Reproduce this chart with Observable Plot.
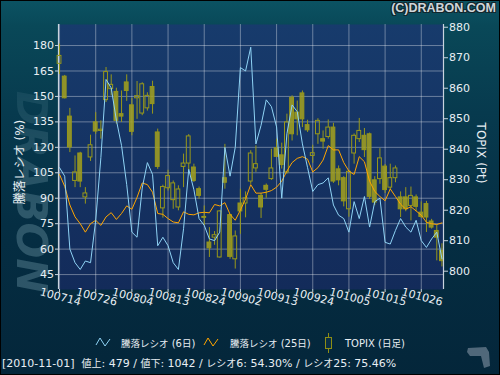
<!DOCTYPE html>
<html lang="ja"><head><meta charset="utf-8">
<script src="https://cdn.jsdelivr.net/npm/d3@7"></script>
<script src="https://cdn.jsdelivr.net/npm/@observablehq/plot@0.6"></script>
<style>
html,body{margin:0;padding:0;background:#04263a;}
#wrap{position:relative;width:500px;height:375px;overflow:hidden;
 background:linear-gradient(180deg,#0b5363 0%,#094858 7%,#073a4e 30%,#052e43 60%,#04263a 100%);
 font-family:"DejaVu Sans","Noto Sans CJK JP",sans-serif;color:#e8eef3;}
#wrap::after{content:"";position:absolute;left:0;top:0;right:0;bottom:0;box-shadow:inset 0 0 0 1px #000;pointer-events:none;}
.layer{position:absolute;left:0;top:0;}
#title{position:absolute;right:4px;top:0px;font:bold 12.5px "Liberation Sans",Arial,sans-serif;color:#cfd6da;
 text-shadow:1px 1px 0 #14262c,-1px -1px 0 #14262c,1px -1px 0 #14262c,-1px 1px 0 #14262c;line-height:16px;}
#wm{position:absolute;left:31px;top:192px;transform:translate(-50%,-50%) rotate(90deg);font:italic bold 42px "DejaVu Sans",sans-serif;
 color:rgba(120,160,176,0.36);white-space:nowrap;line-height:42px;
 -webkit-mask-image:linear-gradient(to right,rgba(0,0,0,0.35),rgba(0,0,0,1) 60%);mask-image:linear-gradient(to right,rgba(0,0,0,0.35),rgba(0,0,0,1) 60%);}
.ytitle{position:absolute;font-size:12px;line-height:14px;white-space:pre;color:#e8eef3;z-index:5;}
#ytl{left:20px;top:162px;transform:translate(-50%,-50%) rotate(-90deg);}
#ytr{left:481px;top:153px;transform:translate(-50%,-50%) rotate(90deg);}
.leg{position:absolute;top:337px;font-size:10px;line-height:14px;white-space:pre;color:#e8eef3;}
.leg .c{font-size:9.5px;}
#status{position:absolute;left:2px;top:356px;font-size:11px;line-height:16px;white-space:pre;color:#e8eef3;}
#status .c{font-size:10px;}
svg.ico{position:absolute;}
</style></head>
<body>
<div id="wrap">
  <div id="wm">DRABON</div>
  <div id="title">(C)DRABON.COM</div>
  <div class="ytitle" id="ytl">騰落レシオ (%)</div>
  <div class="ytitle" id="ytr">TOPIX (Pt)</div>
  <svg class="ico" style="left:95px;top:336px" width="18" height="12"><polyline points="1,9 5,2 10,10 15,3" fill="none" stroke="#8fd3f5" stroke-width="1"/></svg>
  <div class="leg" style="left:121px"><span class="c">騰落レシオ</span> (6<span class="c">日</span>)</div>
  <svg class="ico" style="left:203px;top:336px" width="18" height="12"><polyline points="1,9 5,2 10,10 15,3" fill="none" stroke="#ffa500" stroke-width="1"/></svg>
  <div class="leg" style="left:230px"><span class="c">騰落レシオ</span> (25<span class="c">日</span>)</div>
  <svg class="ico" style="left:322px;top:332px" width="12" height="22"><line x1="6.5" y1="1" x2="6.5" y2="21" stroke="#8e8e14"/><rect x="3.5" y="5.5" width="6" height="11" fill="#0a2f45" stroke="#8e8e14"/></svg>
  <div class="leg" style="left:345px">TOPIX (<span class="c">日足</span>)</div>
  <div id="status">[2010-11-01]  <span class="c">値上</span>: 479 / <span class="c">値下</span>: 1042 / <span class="c">レシオ</span>6: 54.30% / <span class="c">レシオ</span>25: 75.46%</div>
  <svg class="ico" style="left:465px;top:345px" width="30" height="28"><polygon points="3,3 21,2 24,7 25,21 19,23 16,11 5,11 2,7" fill="#50687a"/></svg>
</div>
<script>
const dates = ["100714","100715","100716","100720","100721","100722","100723","100726","100727","100728","100729","100730",
"100802","100803","100804","100805","100806","100809","100810","100811","100812","100813","100816","100817","100818","100819","100820","100823","100824","100825","100826","100827","100830","100831",
"100901","100902","100903","100906","100907","100908","100909","100910","100913","100914","100915","100916","100917","100921","100922","100924","100927","100928","100929","100930",
"101001","101004","101005","101006","101007","101008","101012","101013","101014","101015","101018","101019","101020","101021","101022","101025","101026","101027","101028","101029",
"101101"];
const ratio6 = [108,103,60,52,48,53,52,77,114,160,155,136,121,98,70,67,96,111,104,62,67,62,52,48,72,107,95,78,74,66,65,70,120,103,120,167,165,179,122,133,148,144,132,90,128,145,141,122,108,94,98,99,102,86,80,78,70,88,78,91,73,88,90,64,63,71,78,73,70,77,65,61,66,70,54.3];
const ratio25 = [104,97,86,79,75,70,75,77,74,79,81.5,77.5,81,85.5,83.5,90.5,99,98,93.5,81,80.5,78,76,75.5,82,80.5,80.2,81.4,81.7,81.4,86.3,85.5,87.4,80.5,77,83,89.5,98,93,93,93.5,94.5,96.5,100,106,111,113.5,114.5,113,105.5,108,112.5,121,118.5,118.5,111,106,104,114.5,111.5,100,94,91,88.5,95.5,91,86.5,83.5,85,82.5,80,75.8,75,74.5,75.46];
const open = [868.0,863.8,850.7,829.6,838.6,824.2,837.3,848.8,846.0,856.1,859.7,858.8,851.5,861.9,854.4,856.7,851.7,853.4,860.4,845.5,820.6,827.2,823.3,820.9,834.2,835.3,834.0,826.9,817.8,809.4,811.0,804.5,830.5,818.4,803.9,822.2,822.2,829.4,833.7,824.7,828.0,830.2,840.3,838.0,832.4,856.9,852.0,858.3,847.9,837.8,844.9,843.3,844.0,847.1,833.4,830.5,820.3,838.6,843.3,844.4,844.9,829.8,830.2,834.3,827.4,830.5,824.2,824.2,821.4,824.2,819.2,822.0,816.3,813.2,806.6];
const high = [874.5,864.2,853.4,837.8,839.0,827.4,844.6,852.0,849.3,866.8,864.4,860.0,859.1,864.4,856.7,862.2,861.8,858.5,862.3,846.6,828.2,833.1,829.6,828.0,838.4,844.8,835.1,827.6,821.4,814.3,813.0,819.8,841.6,818.6,813.2,826.9,826.0,839.5,841.1,825.5,828.6,840.0,843.3,842.0,851.5,857.5,855.8,859.1,849.5,841.3,850.0,846.0,849.6,848.5,834.5,831.0,833.0,845.0,850.1,846.8,845.3,831.0,840.2,835.0,835.1,834.5,826.0,827.4,827.6,825.0,822.7,822.9,817.0,815.0,809.0];
const low = [864.5,856.5,838.9,827.4,827.4,822.0,836.0,844.9,843.3,855.3,857.5,848.2,848.8,855.7,844.4,849.8,851.0,852.5,851.5,833.4,817.4,826.3,820.3,819.8,827.4,833.0,829.1,823.6,815.0,804.5,808.5,804.3,826.9,803.9,800.7,812.1,817.5,828.5,832.4,817.3,823.9,829.8,837.4,833.5,831.8,842.7,844.4,847.1,845.5,835.4,841.6,840.0,843.3,828.8,828.0,821.1,817.7,835.1,842.2,837.3,823.5,821.5,828.5,825.5,826.5,829.0,817.6,819.5,816.5,819.5,817.3,812.7,813.8,803.4,801.4];
const close = [870.6,856.7,840.6,832.4,829.4,825.5,841.3,845.8,846.4,865.3,861.1,849.3,850.7,859.1,845.7,857.4,861.3,857.5,854.8,834.2,827.6,831.2,828.8,826.8,835.3,844.2,829.6,824.7,817.5,807.5,811.8,819.6,829.0,804.7,811.4,819.6,823.9,838.6,835.1,820.9,826.7,833.7,837.5,834.8,848.8,844.9,849.8,849.8,846.2,838.7,849.3,842.5,847.1,829.4,829.8,822.9,832.6,844.4,846.0,839.7,824.4,822.5,837.0,826.6,830.5,833.7,820.3,820.3,824.7,821.1,817.8,817.6,814.3,811.0,803.3];
const leftTicks = [45,60,75,90,105,120,135,150,165,180];
const rightTicks = [800,810,820,830,840,850,860,870,880];
const xTickIdx = [0,7,14,21,28,35,42,49,56,63,70];

const rows = dates.map((date, i) => ({i, date, r6: ratio6[i], r25: ratio25[i], o: open[i], h: high[i], l: low[i], c: close[i]}));
const W = 500, H = 375;
const M = {marginLeft: 58, marginRight: 57, marginTop: 24, marginBottom: 86};
const xDomain = [-0.2, 74.3];
const yLeft = [36.2, 192.4], yRight = [794.0, 880.9];
const axisColor = "#c9d3de", labelColor = "#e8eef3";
const cStroke = "#98981a", cFill = "#a4a222";
const style = {background: "transparent", overflow: "visible", fontFamily: "'DejaVu Sans','Noto Sans CJK JP',sans-serif"};
const wrap = document.getElementById("wrap");

const base = Plot.plot({
  width: W, height: H, ...M, style,
  x: {domain: xDomain, axis: null},
  y: {domain: yLeft, axis: null},
  marks: [
    Plot.frame({fill: "url(#plotbg)", stroke: "none"}),
    Plot.gridY(leftTicks, {stroke: "#ffffff", strokeOpacity: 0.36}),
    Plot.gridX(xTickIdx, {stroke: "#ffffff", strokeOpacity: 0.36}),
    Plot.axisY(leftTicks, {anchor: "left", tickSize: 3, tickPadding: 1.5, fontSize: 11, fill: labelColor, stroke: axisColor, label: null}),
    Plot.axisX(xTickIdx, {anchor: "bottom", tickSize: 3, tickFormat: () => "", stroke: axisColor, label: null}),
    Plot.text(xTickIdx, {x: d => d, text: d => dates[d], frameAnchor: "bottom", dy: 11, rotate: 15, fontSize: 11, fill: labelColor}),
    Plot.ruleX([xDomain[0]], {stroke: axisColor, strokeWidth: 1.2})
  ]
});
base.classList.add("layer");
const defs = d3.select(base).insert("defs", ":first-child");
const grad = defs.append("linearGradient").attr("id", "plotbg").attr("x1", 0).attr("y1", 0).attr("x2", 0).attr("y2", 1);
grad.append("stop").attr("offset", "0%").attr("stop-color", "#173b6c");
grad.append("stop").attr("offset", "100%").attr("stop-color", "#132b5a");
wrap.appendChild(base);

const candles = Plot.plot({
  width: W, height: H, ...M, style,
  x: {domain: xDomain, axis: null},
  y: {domain: yRight, axis: null},
  marks: [
    Plot.ruleX(rows, {x: "i", y1: "l", y2: d => Math.min(d.o, d.c), stroke: cStroke}),
    Plot.ruleX(rows, {x: "i", y1: d => Math.max(d.o, d.c), y2: "h", stroke: cStroke}),
    Plot.rect(rows, {filter: d => d.c < d.o, x1: d => d.i - 0.37, x2: d => d.i + 0.37, y1: "c", y2: "o", fill: cFill, fillOpacity: 0.85, stroke: cStroke}),
    Plot.rect(rows, {filter: d => d.c >= d.o, x1: d => d.i - 0.37, x2: d => d.i + 0.37, y1: "o", y2: "c", fill: "none", stroke: cStroke}),
    Plot.axisY(rightTicks, {anchor: "right", tickSize: 4, tickPadding: 1.5, fontSize: 11, fill: labelColor, stroke: axisColor, label: null}),
    Plot.ruleX([xDomain[1]], {stroke: axisColor, strokeWidth: 1.2})
  ]
});
candles.classList.add("layer");
wrap.appendChild(candles);

const lines = Plot.plot({
  width: W, height: H, ...M, style,
  x: {domain: xDomain, axis: null},
  y: {domain: yLeft, axis: null},
  marks: [
    Plot.line(rows, {x: "i", y: "r25", stroke: "#ffa500", strokeWidth: 1}),
    Plot.line(rows, {x: "i", y: "r6", stroke: "#8fd3f5", strokeWidth: 1})
  ]
});
lines.classList.add("layer");
wrap.appendChild(lines);
</script>
</body></html>
